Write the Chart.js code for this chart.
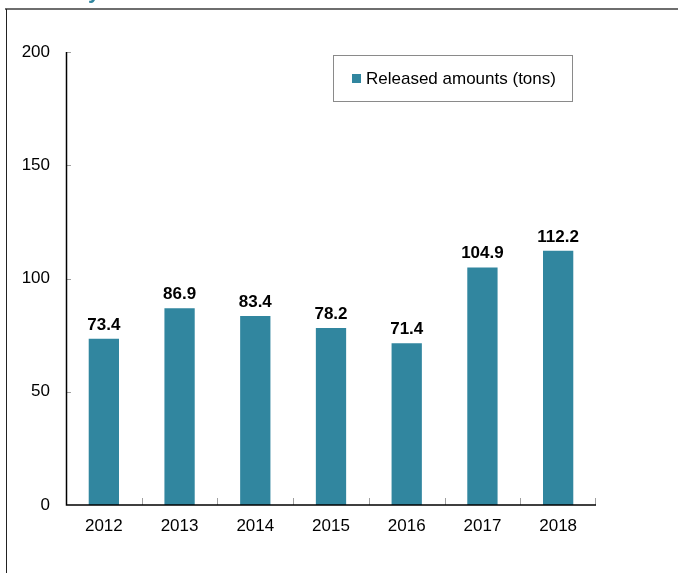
<!DOCTYPE html>
<html>
<head>
<meta charset="utf-8">
<script src="https://cdn.jsdelivr.net/npm/chart.js@4.4.1/dist/chart.umd.min.js"></script>
<style>
html,body{margin:0;padding:0;background:#fff;}
#wrap{position:absolute;left:0;top:0;width:678px;height:573px;}
</style>
</head>
<body>
<div id="wrap"><canvas id="c" width="678" height="573"></canvas></div>
<script>
const categories = ["2012","2013","2014","2015","2016","2017","2018"];
const releasedAmounts = [73.4, 86.9, 83.4, 78.2, 71.4, 104.9, 112.2];
const seriesLabel = "Released amounts (tons)";
const yTicks = [0, 50, 100, 150, 200];

const FONT = "'Liberation Sans', Arial, sans-serif";
const BAR = "#31869f";

const framePlugin = {
  id: 'frame',
  beforeDraw(chart) {
    const ctx = chart.ctx;
    ctx.save();
    ctx.fillStyle = '#fff';
    ctx.fillRect(0, 0, chart.width, chart.height);
    // cropped title remnant
    ctx.fillStyle = BAR;
    ctx.font = "bold 22px " + FONT;
    ctx.textBaseline = 'alphabetic';
    ctx.fillText("y", 88, -2);
    ctx.strokeStyle = '#6e6e6e';
    ctx.lineWidth = 2;
    ctx.beginPath();
    ctx.moveTo(5, 9); ctx.lineTo(chart.width, 9);
    ctx.stroke();
    ctx.strokeStyle = '#222';
    ctx.lineWidth = 1;
    ctx.beginPath();
    ctx.moveTo(6.5, 9); ctx.lineTo(6.5, chart.height);
    ctx.stroke();
    ctx.restore();
  }
};

const decoPlugin = {
  id: 'deco',
  afterDraw(chart) {
    const ctx = chart.ctx;
    const x = chart.scales.x, y = chart.scales.y;
    const area = chart.chartArea;
    ctx.save();
    ctx.strokeStyle = '#a0a0a0';
    ctx.lineWidth = 1;
    yTicks.forEach(v => {
      if (v === 0) return;
      const py = Math.round(y.getPixelForValue(v)) + 0.5;
      ctx.beginPath(); ctx.moveTo(area.left, py); ctx.lineTo(area.left + 5, py); ctx.stroke();
    });
    for (let i = 0; i < categories.length; i++) {
      const px = Math.round((x.getPixelForValue(i) + x.getPixelForValue(i + 1)) / 2) + 0.5;
      const xx = i === categories.length - 1 ? area.right - 0.5 : px;
      ctx.beginPath(); ctx.moveTo(xx, area.bottom); ctx.lineTo(xx, area.bottom - 7); ctx.stroke();
    }
    ctx.strokeStyle = '#000';
    ctx.lineWidth = 1.5;
    ctx.beginPath();
    ctx.moveTo(area.left + 0.5, area.top); ctx.lineTo(area.left + 0.5, area.bottom);
    ctx.lineTo(area.right, area.bottom);
    ctx.stroke();
    ctx.fillStyle = '#000';
    ctx.font = "bold 17px " + FONT;
    ctx.textAlign = 'center';
    ctx.textBaseline = 'alphabetic';
    const meta = chart.getDatasetMeta(0);
    meta.data.forEach((bar, i) => {
      ctx.fillText(releasedAmounts[i].toFixed(1), bar.x, bar.y - 9);
    });
    const bx = 333.5, by = 55.5, bw = 239, bh = 46;
    ctx.strokeStyle = '#8a8a8a';
    ctx.lineWidth = 1;
    ctx.strokeRect(bx, by, bw, bh);
    ctx.fillStyle = BAR;
    ctx.fillRect(352, 74, 9, 9);
    ctx.fillStyle = '#000';
    ctx.font = "17px " + FONT;
    ctx.textAlign = 'left';
    ctx.textBaseline = 'middle';
    ctx.fillText(seriesLabel, 366, 79);
    ctx.restore();
  }
};

new Chart(document.getElementById('c'), {
  type: 'bar',
  data: {
    labels: categories,
    datasets: [{
      label: seriesLabel,
      data: releasedAmounts,
      backgroundColor: BAR,
      borderWidth: 0,
      categoryPercentage: 1,
      barPercentage: 0.40
    }]
  },
  options: {
    responsive: false,
    animation: false,
    devicePixelRatio: 1,
    layout: { padding: { left: 0, top: 52, right: 82, bottom: 0 } },
    plugins: { legend: { display: false }, tooltip: { enabled: false } },
    scales: {
      x: {
        grid: { display: false, drawTicks: false },
        border: { display: false },
        ticks: { color: '#000', font: { family: FONT, size: 17 }, padding: 11 },
        afterFit(s) { s.height = 68; }
      },
      y: {
        min: 0, max: 200,
        afterBuildTicks(s) { s.ticks = yTicks.map(v => ({ value: v })); },
        grid: { display: false, drawTicks: false },
        border: { display: false },
        ticks: { color: '#000', font: { family: FONT, size: 17 }, padding: 16 },
        afterFit(s) { s.width = 66; }
      }
    }
  },
  plugins: [framePlugin, decoPlugin]
});
</script>
</body>
</html>
